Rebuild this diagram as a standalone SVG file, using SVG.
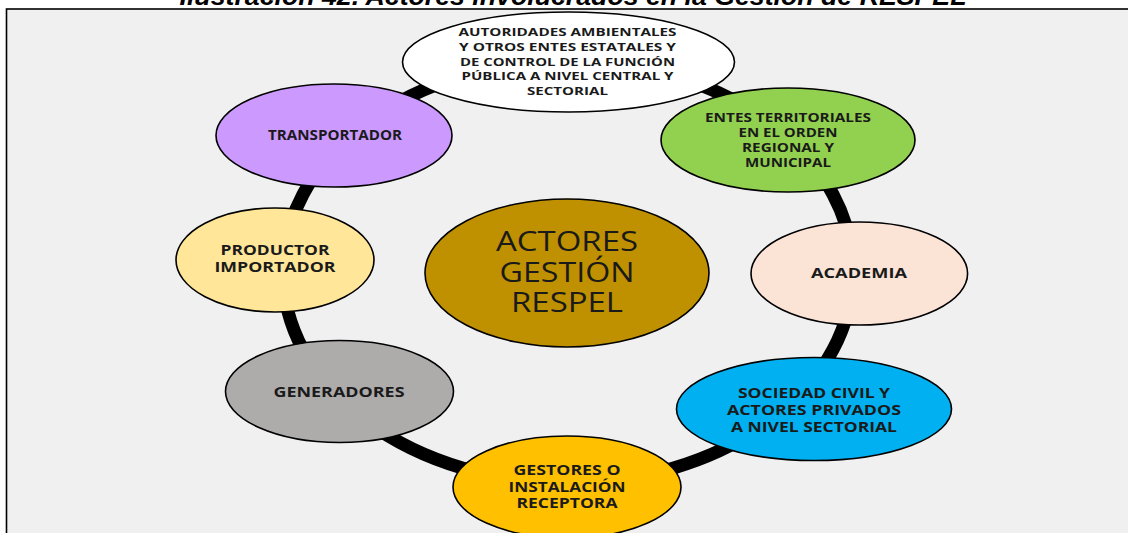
<svg xmlns="http://www.w3.org/2000/svg" width="1128" height="533" viewBox="0 0 1128 533">
<style>
.nd{stroke:#000;stroke-width:1.6}
.t{font-family:"Open Sans","Liberation Sans",sans-serif;font-weight:bold;font-size:13.5px;fill:#1a1a1a;text-anchor:middle}
.ts{font-family:"Open Sans","Liberation Sans",sans-serif;font-weight:bold;font-size:11px;fill:#1a1a1a;text-anchor:middle}
.tc{font-family:"Open Sans","Liberation Sans",sans-serif;font-size:27px;fill:#1a1a1a;text-anchor:middle}
.ttl{font-family:"Liberation Sans",Arial,sans-serif;font-weight:bold;font-style:italic;font-size:26px;fill:#000;text-anchor:middle}
</style>
<rect x="0" y="0" width="1128" height="533" fill="#ffffff"/>
<rect x="6.5" y="9" width="1200" height="600" fill="#f0f0f0" stroke="#000" stroke-width="1.6"/>
<text class="ttl" x="573" y="5" textLength="787" lengthAdjust="spacingAndGlyphs">Ilustración 42. Actores involucrados en la Gestión de RESPEL</text>
<g id="connectors">
<ellipse cx="568" cy="272" rx="285" ry="211" fill="none" stroke="#000" stroke-width="13"/>
</g>
<g id="n-center">
<ellipse class="nd" cx="567" cy="273" rx="142" ry="74" fill="#bf9000"/>
<text class="tc" x="567" y="251" textLength="142" lengthAdjust="spacingAndGlyphs">ACTORES</text>
<text class="tc" x="567" y="282" textLength="135" lengthAdjust="spacingAndGlyphs">GESTIÓN</text>
<text class="tc" x="567" y="312" textLength="112" lengthAdjust="spacingAndGlyphs">RESPEL</text>
</g>
<g id="n-autoridades">
<ellipse class="nd" cx="568.5" cy="62" rx="166" ry="50" fill="#ffffff"/>
<text class="ts" x="567.5" y="35.7" textLength="218" lengthAdjust="spacingAndGlyphs">AUTORIDADES AMBIENTALES</text>
<text class="ts" x="567.5" y="50.7" textLength="217" lengthAdjust="spacingAndGlyphs">Y OTROS ENTES ESTATALES Y</text>
<text class="ts" x="567.5" y="65.5" textLength="215" lengthAdjust="spacingAndGlyphs">DE CONTROL DE LA FUNCIÓN</text>
<text class="ts" x="567.5" y="80" textLength="212" lengthAdjust="spacingAndGlyphs">PÚBLICA A NIVEL CENTRAL Y</text>
<text class="ts" x="567.5" y="94.5" textLength="81" lengthAdjust="spacingAndGlyphs">SECTORIAL</text>
</g>
<g id="n-transportador">
<ellipse class="nd" cx="334" cy="135.5" rx="118" ry="51.5" fill="#cc99ff"/>
<text class="t" x="335" y="140" textLength="134" lengthAdjust="spacingAndGlyphs">TRANSPORTADOR</text>
</g>
<g id="n-productor">
<ellipse class="nd" cx="275" cy="260" rx="99" ry="52" fill="#ffe699"/>
<text class="t" x="275" y="255" textLength="109" lengthAdjust="spacingAndGlyphs">PRODUCTOR</text>
<text class="t" x="275" y="272" textLength="121" lengthAdjust="spacingAndGlyphs">IMPORTADOR</text>
</g>
<g id="n-generadores">
<ellipse class="nd" cx="339.5" cy="391.5" rx="114" ry="51" fill="#aeabab"/>
<text class="t" x="339" y="396.5" textLength="131" lengthAdjust="spacingAndGlyphs">GENERADORES</text>
</g>
<g id="n-gestores">
<ellipse class="nd" cx="567" cy="487" rx="114" ry="51" fill="#ffc000"/>
<text class="t" x="567" y="475" textLength="107" lengthAdjust="spacingAndGlyphs">GESTORES O</text>
<text class="t" x="567" y="491.7" textLength="117" lengthAdjust="spacingAndGlyphs">INSTALACIÓN</text>
<text class="t" x="567" y="508.3" textLength="101" lengthAdjust="spacingAndGlyphs">RECEPTORA</text>
</g>
<g id="n-sociedad">
<ellipse class="nd" cx="814" cy="409" rx="137.5" ry="51.5" fill="#00b0f0"/>
<text class="t" x="814" y="398.3" textLength="152" lengthAdjust="spacingAndGlyphs">SOCIEDAD CIVIL Y</text>
<text class="t" x="814" y="415" textLength="174" lengthAdjust="spacingAndGlyphs">ACTORES PRIVADOS</text>
<text class="t" x="814" y="431.7" textLength="166" lengthAdjust="spacingAndGlyphs">A NIVEL SECTORIAL</text>
</g>
<g id="n-academia">
<ellipse class="nd" cx="859.3" cy="273.5" rx="108.3" ry="51.5" fill="#fbe3d6"/>
<text class="t" x="859" y="278.3" textLength="96" lengthAdjust="spacingAndGlyphs">ACADEMIA</text>
</g>
<g id="n-entes">
<ellipse class="nd" cx="788" cy="140" rx="127" ry="52" fill="#92d050"/>
<text class="ts" x="788" y="122.3" textLength="166" lengthAdjust="spacingAndGlyphs" style="font-size:12.5px">ENTES TERRITORIALES</text>
<text class="ts" x="788" y="137.3" textLength="99" lengthAdjust="spacingAndGlyphs" style="font-size:12.5px">EN EL ORDEN</text>
<text class="ts" x="788" y="152" textLength="92" lengthAdjust="spacingAndGlyphs" style="font-size:12.5px">REGIONAL Y</text>
<text class="ts" x="788" y="166.7" textLength="86" lengthAdjust="spacingAndGlyphs" style="font-size:12.5px">MUNICIPAL</text>
</g>
</svg>
